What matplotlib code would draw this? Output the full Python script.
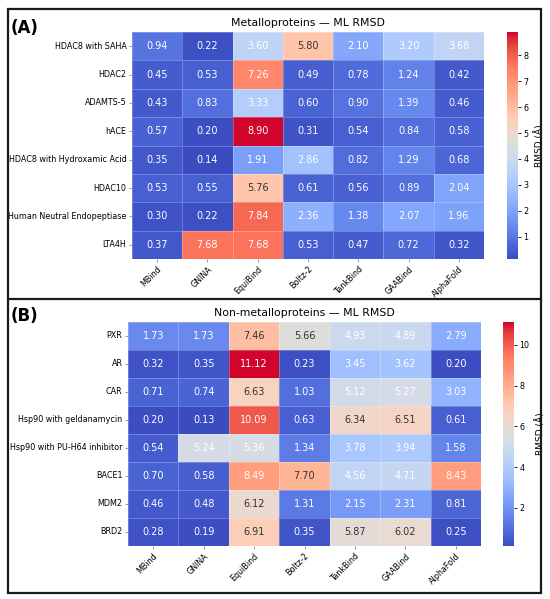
import matplotlib
matplotlib.use("Agg")
import matplotlib.pyplot as plt
import matplotlib.patches as mpatches
from matplotlib.lines import Line2D
from matplotlib.colors import ListedColormap, rgb_to_hsv, hsv_to_rgb
import seaborn as sns
import numpy as np
import pandas as pd

methods = ["MBind", "GNINA", "EquiBind", "Boltz-2", "TankBind", "GAABind", "AlphaFold"]

metallo_targets = ["HDAC8 with SAHA", "HDAC2", "ADAMTS-5", "hACE",
                   "HDAC8 with Hydroxamic Acid", "HDAC10",
                   "Human Neutral Endopeptiase", "LTA4H"]
metallo_rmsd = [
    [0.94, 0.22, 3.60, 5.80, 2.10, 3.20, 3.68],
    [0.45, 0.53, 7.26, 0.49, 0.78, 1.24, 0.42],
    [0.43, 0.83, 3.33, 0.60, 0.90, 1.39, 0.46],
    [0.57, 0.20, 8.90, 0.31, 0.54, 0.84, 0.58],
    [0.35, 0.14, 1.91, 2.86, 0.82, 1.29, 0.68],
    [0.53, 0.55, 5.76, 0.61, 0.56, 0.89, 2.04],
    [0.30, 0.22, 7.84, 2.36, 1.38, 2.07, 1.96],
    [0.37, 7.68, 7.68, 0.53, 0.47, 0.72, 0.32],
]

nonmetallo_targets = ["PXR", "AR", "CAR", "Hsp90 with geldanamycin",
                      "Hsp90 with PU-H64 inhibitor", "BACE1", "MDM2", "BRD2"]
nonmetallo_rmsd = [
    [1.73, 1.73, 7.46, 5.66, 4.93, 4.89, 2.79],
    [0.32, 0.35, 11.12, 0.23, 3.45, 3.62, 0.20],
    [0.71, 0.74, 6.63, 1.03, 5.12, 5.27, 3.03],
    [0.20, 0.13, 10.09, 0.63, 6.34, 6.51, 0.61],
    [0.54, 5.24, 5.36, 1.34, 3.78, 3.94, 1.58],
    [0.70, 0.58, 8.49, 7.70, 4.56, 4.71, 8.43],
    [0.46, 0.48, 6.12, 1.31, 2.15, 2.31, 0.81],
    [0.28, 0.19, 6.91, 0.35, 5.87, 6.02, 0.25],
]

# slightly brighter warm end of coolwarm
_pos = np.linspace(0, 1, 256)
_base = plt.get_cmap("coolwarm")(_pos)[:, :3]
_hsv = rgb_to_hsv(_base)
_hsv[:, 2] = np.clip(_hsv[:, 2] * (1 + 0.16 * np.clip((_pos - 0.5) / 0.5, 0, 1)), 0, 1)
cmap = ListedColormap(hsv_to_rgb(_hsv))

W, H = 550, 599
fig = plt.figure(figsize=(W / 100, H / 100), dpi=100)
plt.rcParams['font.family'] = ['DejaVu Sans']


def px_axes(x0, y0, x1, y1):
    return fig.add_axes([x0 / W, 1 - y1 / H, (x1 - x0) / W, (y1 - y0) / H])


def draw_panel(data, rows, title, label, hm_box, cb_box, title_y, label_y):
    df = pd.DataFrame(data, index=rows, columns=methods)
    ax = px_axes(*hm_box)
    cax = px_axes(*cb_box)
    sns.heatmap(df, ax=ax, cbar_ax=cax, cmap=cmap, annot=False,
                linewidths=0.5, linecolor=(1, 1, 1, 0.25),
                cbar_kws={"label": "RMSD (Å)"})
    vals = df.values
    vmin, vmax = vals.min(), vals.max()
    for i in range(vals.shape[0]):
        for j in range(vals.shape[1]):
            v = vals[i, j]
            n = (v - vmin) / (vmax - vmin)
            col = "#333333" if 0.48 <= n <= 0.70 else "white"
            ax.text(j + 0.5, i + 0.5, f"{v:.2f}", ha="center", va="center",
                    fontsize=7, color=col)
    ax.set_xticklabels(methods, rotation=45, ha="right", rotation_mode="anchor",
                       fontsize=5.8)
    ax.set_yticklabels(rows, rotation=0, fontsize=5.8)
    ax.tick_params(axis="both", length=2.5, width=0.6, color="#888888", pad=1.5)
    ax.set_xlabel("")
    ax.set_ylabel("")
    cax.tick_params(labelsize=5.8, length=2.5, width=0.6, pad=1.5)
    cax.yaxis.label.set_size(6.5)
    x_mid = (hm_box[0] + hm_box[2]) / 2
    fig.text(x_mid / W, 1 - title_y / H, title, ha="center", va="center", fontsize=7.8)
    fig.text(11 / W, 1 - label_y / H, label, ha="left", va="center",
             fontsize=12, fontweight="bold")


draw_panel(metallo_rmsd, metallo_targets, "Metalloproteins — ML RMSD", "(A)",
           (132, 32, 484, 259), (507, 32, 518, 259), 23, 28)
draw_panel(nonmetallo_rmsd, nonmetallo_targets, "Non-metalloproteins — ML RMSD", "(B)",
           (128, 322, 481, 546), (503, 322, 514, 546), 313, 316)

# Frame
fig.patches.append(mpatches.Rectangle((7.5 / W, 1 - 592.5 / H), (541 - 7.5) / W,
                                      (592.5 - 8.5) / H, transform=fig.transFigure,
                                      fill=False, edgecolor="#1a1a1a", linewidth=1.6))
fig.lines.append(Line2D([7.5 / W, 541 / W], [1 - 299 / H, 1 - 299 / H],
                        transform=fig.transFigure, color="#1a1a1a", linewidth=1.6))

fig.savefig("out.png", dpi=100)
